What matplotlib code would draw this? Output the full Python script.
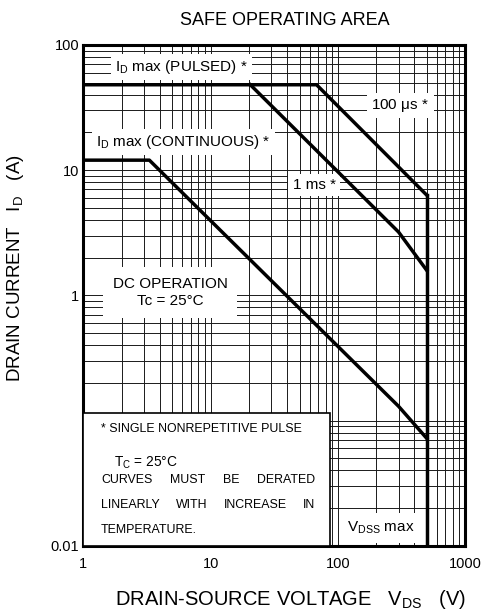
import matplotlib.pyplot as plt
from matplotlib.ticker import LogLocator, NullFormatter, FixedLocator, FixedFormatter

plt.rcParams['font.family'] = ['Liberation Sans', 'DejaVu Sans']
plt.rcParams['mathtext.fontset'] = 'custom'
plt.rcParams['mathtext.rm'] = 'Liberation Sans'
plt.rcParams['mathtext.it'] = 'Liberation Sans'
plt.rcParams['mathtext.default'] = 'regular'

# safe operating area curves (V, A)
pulse_v = [1, 68, 500]
pulse_i = [48, 48, 6.3]
ms1_v = [20.5, 300, 500]
ms1_i = [48, 3.2, 1.58]
dc_v = [1, 3.3, 300, 500]
dc_i = [12, 12, 0.13, 0.072]
vdss_v = [500, 500]
vdss_i = [6.3, 0.01]

x_ticks = [1, 10, 100, 1000]
x_labels = ['1', '10', '100', '1000']
y_ticks = [0.01, 1, 10, 100]
y_labels = ['0.01', '1', '10', '100']

fig = plt.figure(figsize=(4.82, 6.14), dpi=100)
ax = fig.add_axes([0.173, 0.111, 0.792, 0.816])
ax.set_xscale('log')
ax.set_yscale('log')
ax.set_xlim(1, 1000)
ax.set_ylim(0.01, 100)

ax.xaxis.set_major_locator(FixedLocator(x_ticks))
ax.xaxis.set_major_formatter(FixedFormatter(x_labels))
ax.yaxis.set_major_locator(FixedLocator(y_ticks))
ax.yaxis.set_major_formatter(FixedFormatter(y_labels))
ax.xaxis.set_minor_locator(LogLocator(base=10, subs=range(1, 10), numticks=20))
ax.yaxis.set_minor_locator(LogLocator(base=10, subs=range(1, 10), numticks=20))
ax.xaxis.set_minor_formatter(NullFormatter())
ax.yaxis.set_minor_formatter(NullFormatter())
ax.grid(True, which='both', color='0.1', linewidth=0.7)
ax.tick_params(which='both', length=0, labelsize=10.5)
ax.tick_params(axis='x', pad=8)
ax.tick_params(axis='y', pad=3)
for s in ax.spines.values():
    s.set_linewidth(2.2)

lw = 2.5
ax.plot(pulse_v, pulse_i, color='black', lw=lw, zorder=5)
ax.plot(ms1_v, ms1_i, color='black', lw=lw, zorder=5)
ax.plot(dc_v, dc_i, color='black', lw=lw, zorder=5)
ax.plot(vdss_v, vdss_i, color='black', lw=lw, zorder=5)

fsl = 11
wb = dict(facecolor='white', edgecolor='none', pad=3)
ax.text(5.86, 66.7, 'I$_D$ max (PULSED) *', fontsize=fsl, ha='center', va='center', bbox=wb, zorder=4)
ax.text(6.13, 16.7, 'I$_D$ max (CONTINUOUS) *', fontsize=fsl, ha='center', va='center', bbox=wb, zorder=4)
ax.text(310, 33, '100 $\\mu$s *', fontsize=fsl, ha='center', va='center', bbox=wb, zorder=4)
ax.text(65, 7.6, '1 ms *', fontsize=fsl, ha='center', va='center', bbox=wb, zorder=4)
ax.text(4.8, 1.06, 'DC OPERATION\nTc = 25°C', fontsize=fsl, ha='center', va='center',
        linespacing=1.3, bbox=dict(facecolor='white', edgecolor='none', pad=7), zorder=4)
ax.text(216, 0.0139, 'V$_{DSS}$ max', fontsize=fsl, ha='center', va='center',
        bbox=dict(facecolor='white', edgecolor='none', pad=5), zorder=4)

# note box
box = plt.Rectangle((0, 0), 0.647, 0.265, transform=ax.transAxes,
                    facecolor='white', edgecolor='black', lw=1.2, zorder=6)
ax.add_patch(box)
fs = 8.9
tx = 0.046
ax.text(tx, 0.233, '* SINGLE NONREPETITIVE PULSE', transform=ax.transAxes, fontsize=fs, va='center', zorder=7)
ax.text(tx + 0.035, 0.165, 'T$_C$ = 25°C', transform=ax.transAxes, fontsize=fs + 1, va='center', zorder=7)
rows = [(0.131, ['CURVES', 'MUST', 'BE', 'DERATED']),
        (0.081, ['LINEARLY', 'WITH', 'INCREASE', 'IN'])]
right = 0.608
fig.canvas.draw()
r = fig.canvas.get_renderer()
axw = ax.get_window_extent(r).width
for yy, words in rows:
    objs = [ax.text(0, yy, w, transform=ax.transAxes, fontsize=fs, va='center', zorder=7) for w in words]
    widths = [o.get_window_extent(r).width for o in objs]
    gap = ((right - tx) * axw - sum(widths)) / (len(words) - 1)
    pos = tx * axw
    for o, w in zip(objs, widths):
        o.set_x(pos / axw)
        pos += w + gap
ax.text(tx, 0.031, 'TEMPERATURE.', transform=ax.transAxes, fontsize=fs, va='center', zorder=7)

fig.text(0.59, 0.967, 'SAFE OPERATING AREA', fontsize=13, ha='center', va='center')
fig.text(0.602, 0.024, 'DRAIN-SOURCE VOLTAGE   V$_{DS}$   (V)', fontsize=14.5, ha='center', va='center')
fig.text(0.033, 0.563, 'DRAIN CURRENT   I$_D$   (A)', fontsize=13.5, ha='center', va='center', rotation=90)

fig.savefig('out.png', dpi=100)
